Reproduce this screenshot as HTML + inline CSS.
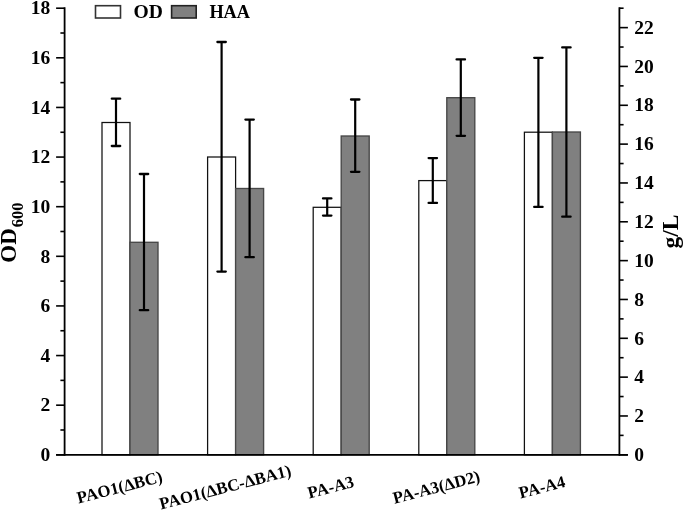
<!DOCTYPE html><html><head><meta charset="utf-8"><style>html,body{margin:0;padding:0;background:#fff;}svg{display:block;will-change:transform;}text{font-family:"Liberation Serif",serif;font-weight:bold;fill:#000;}</style></head><body>
<svg width="685" height="511" viewBox="0 0 685 511">
<rect width="685" height="511" fill="#fff"/>
<rect x="102.00" y="122.50" width="28.00" height="332.30" fill="#fff" stroke="#111" stroke-width="1.25"/>
<rect x="130.00" y="242.30" width="28.00" height="212.50" fill="#808080" stroke="#474747" stroke-width="1.35"/>
<rect x="207.60" y="157.00" width="28.00" height="297.80" fill="#fff" stroke="#111" stroke-width="1.25"/>
<rect x="235.60" y="188.50" width="28.00" height="266.30" fill="#808080" stroke="#474747" stroke-width="1.35"/>
<rect x="313.20" y="207.30" width="28.00" height="247.50" fill="#fff" stroke="#111" stroke-width="1.25"/>
<rect x="341.20" y="136.00" width="28.00" height="318.80" fill="#808080" stroke="#474747" stroke-width="1.35"/>
<rect x="418.80" y="180.60" width="28.00" height="274.20" fill="#fff" stroke="#111" stroke-width="1.25"/>
<rect x="446.80" y="97.70" width="28.00" height="357.10" fill="#808080" stroke="#474747" stroke-width="1.35"/>
<rect x="524.40" y="132.20" width="28.00" height="322.60" fill="#fff" stroke="#111" stroke-width="1.25"/>
<rect x="552.40" y="132.00" width="28.00" height="322.80" fill="#808080" stroke="#474747" stroke-width="1.35"/>
<line x1="116.00" y1="98.70" x2="116.00" y2="146.00" stroke="#000" stroke-width="2.2"/>
<line x1="111.80" y1="98.70" x2="120.20" y2="98.70" stroke="#000" stroke-width="2.3" stroke-linecap="round"/>
<line x1="111.80" y1="146.00" x2="120.20" y2="146.00" stroke="#000" stroke-width="2.3" stroke-linecap="round"/>
<line x1="144.00" y1="174.00" x2="144.00" y2="310.20" stroke="#000" stroke-width="2.2"/>
<line x1="139.80" y1="174.00" x2="148.20" y2="174.00" stroke="#000" stroke-width="2.3" stroke-linecap="round"/>
<line x1="139.80" y1="310.20" x2="148.20" y2="310.20" stroke="#000" stroke-width="2.3" stroke-linecap="round"/>
<line x1="221.60" y1="42.00" x2="221.60" y2="271.60" stroke="#000" stroke-width="2.2"/>
<line x1="217.40" y1="42.00" x2="225.80" y2="42.00" stroke="#000" stroke-width="2.3" stroke-linecap="round"/>
<line x1="217.40" y1="271.60" x2="225.80" y2="271.60" stroke="#000" stroke-width="2.3" stroke-linecap="round"/>
<line x1="249.60" y1="119.60" x2="249.60" y2="257.20" stroke="#000" stroke-width="2.2"/>
<line x1="245.40" y1="119.60" x2="253.80" y2="119.60" stroke="#000" stroke-width="2.3" stroke-linecap="round"/>
<line x1="245.40" y1="257.20" x2="253.80" y2="257.20" stroke="#000" stroke-width="2.3" stroke-linecap="round"/>
<line x1="327.20" y1="198.40" x2="327.20" y2="215.60" stroke="#000" stroke-width="2.2"/>
<line x1="323.00" y1="198.40" x2="331.40" y2="198.40" stroke="#000" stroke-width="2.3" stroke-linecap="round"/>
<line x1="323.00" y1="215.60" x2="331.40" y2="215.60" stroke="#000" stroke-width="2.3" stroke-linecap="round"/>
<line x1="355.20" y1="99.50" x2="355.20" y2="171.80" stroke="#000" stroke-width="2.2"/>
<line x1="351.00" y1="99.50" x2="359.40" y2="99.50" stroke="#000" stroke-width="2.3" stroke-linecap="round"/>
<line x1="351.00" y1="171.80" x2="359.40" y2="171.80" stroke="#000" stroke-width="2.3" stroke-linecap="round"/>
<line x1="432.80" y1="158.10" x2="432.80" y2="202.90" stroke="#000" stroke-width="2.2"/>
<line x1="428.60" y1="158.10" x2="437.00" y2="158.10" stroke="#000" stroke-width="2.3" stroke-linecap="round"/>
<line x1="428.60" y1="202.90" x2="437.00" y2="202.90" stroke="#000" stroke-width="2.3" stroke-linecap="round"/>
<line x1="460.80" y1="59.40" x2="460.80" y2="135.80" stroke="#000" stroke-width="2.2"/>
<line x1="456.60" y1="59.40" x2="465.00" y2="59.40" stroke="#000" stroke-width="2.3" stroke-linecap="round"/>
<line x1="456.60" y1="135.80" x2="465.00" y2="135.80" stroke="#000" stroke-width="2.3" stroke-linecap="round"/>
<line x1="538.40" y1="57.80" x2="538.40" y2="206.90" stroke="#000" stroke-width="2.2"/>
<line x1="534.20" y1="57.80" x2="542.60" y2="57.80" stroke="#000" stroke-width="2.3" stroke-linecap="round"/>
<line x1="534.20" y1="206.90" x2="542.60" y2="206.90" stroke="#000" stroke-width="2.3" stroke-linecap="round"/>
<line x1="566.40" y1="47.40" x2="566.40" y2="216.70" stroke="#000" stroke-width="2.2"/>
<line x1="562.20" y1="47.40" x2="570.60" y2="47.40" stroke="#000" stroke-width="2.3" stroke-linecap="round"/>
<line x1="562.20" y1="216.70" x2="570.60" y2="216.70" stroke="#000" stroke-width="2.3" stroke-linecap="round"/>
<line x1="64.60" y1="7.30" x2="64.60" y2="455.70" stroke="#000" stroke-width="1.8"/>
<line x1="619.40" y1="7.30" x2="619.40" y2="455.70" stroke="#000" stroke-width="1.8"/>
<line x1="56.10" y1="454.80" x2="627.90" y2="454.80" stroke="#000" stroke-width="1.8"/>
<line x1="56.10" y1="454.80" x2="64.60" y2="454.80" stroke="#000" stroke-width="1.6"/>
<text x="50.20" y="461.00" font-size="19.5" text-anchor="end">0</text>
<line x1="60.40" y1="429.99" x2="64.60" y2="429.99" stroke="#000" stroke-width="1.6"/>
<line x1="56.10" y1="405.18" x2="64.60" y2="405.18" stroke="#000" stroke-width="1.6"/>
<text x="50.20" y="411.38" font-size="19.5" text-anchor="end">2</text>
<line x1="60.40" y1="380.37" x2="64.60" y2="380.37" stroke="#000" stroke-width="1.6"/>
<line x1="56.10" y1="355.56" x2="64.60" y2="355.56" stroke="#000" stroke-width="1.6"/>
<text x="50.20" y="361.76" font-size="19.5" text-anchor="end">4</text>
<line x1="60.40" y1="330.74" x2="64.60" y2="330.74" stroke="#000" stroke-width="1.6"/>
<line x1="56.10" y1="305.93" x2="64.60" y2="305.93" stroke="#000" stroke-width="1.6"/>
<text x="50.20" y="312.13" font-size="19.5" text-anchor="end">6</text>
<line x1="60.40" y1="281.12" x2="64.60" y2="281.12" stroke="#000" stroke-width="1.6"/>
<line x1="56.10" y1="256.31" x2="64.60" y2="256.31" stroke="#000" stroke-width="1.6"/>
<text x="50.20" y="262.51" font-size="19.5" text-anchor="end">8</text>
<line x1="60.40" y1="231.50" x2="64.60" y2="231.50" stroke="#000" stroke-width="1.6"/>
<line x1="56.10" y1="206.69" x2="64.60" y2="206.69" stroke="#000" stroke-width="1.6"/>
<text x="50.20" y="212.89" font-size="19.5" text-anchor="end">10</text>
<line x1="60.40" y1="181.88" x2="64.60" y2="181.88" stroke="#000" stroke-width="1.6"/>
<line x1="56.10" y1="157.07" x2="64.60" y2="157.07" stroke="#000" stroke-width="1.6"/>
<text x="50.20" y="163.27" font-size="19.5" text-anchor="end">12</text>
<line x1="60.40" y1="132.26" x2="64.60" y2="132.26" stroke="#000" stroke-width="1.6"/>
<line x1="56.10" y1="107.44" x2="64.60" y2="107.44" stroke="#000" stroke-width="1.6"/>
<text x="50.20" y="113.64" font-size="19.5" text-anchor="end">14</text>
<line x1="60.40" y1="82.63" x2="64.60" y2="82.63" stroke="#000" stroke-width="1.6"/>
<line x1="56.10" y1="57.82" x2="64.60" y2="57.82" stroke="#000" stroke-width="1.6"/>
<text x="50.20" y="64.02" font-size="19.5" text-anchor="end">16</text>
<line x1="60.40" y1="33.01" x2="64.60" y2="33.01" stroke="#000" stroke-width="1.6"/>
<line x1="56.10" y1="8.20" x2="64.60" y2="8.20" stroke="#000" stroke-width="1.6"/>
<text x="50.20" y="14.40" font-size="19.5" text-anchor="end">18</text>
<line x1="619.40" y1="454.80" x2="627.90" y2="454.80" stroke="#000" stroke-width="1.6"/>
<text x="634.20" y="461.00" font-size="19.5" text-anchor="start">0</text>
<line x1="619.40" y1="435.38" x2="623.60" y2="435.38" stroke="#000" stroke-width="1.6"/>
<line x1="619.40" y1="415.97" x2="627.90" y2="415.97" stroke="#000" stroke-width="1.6"/>
<text x="634.20" y="422.17" font-size="19.5" text-anchor="start">2</text>
<line x1="619.40" y1="396.55" x2="623.60" y2="396.55" stroke="#000" stroke-width="1.6"/>
<line x1="619.40" y1="377.13" x2="627.90" y2="377.13" stroke="#000" stroke-width="1.6"/>
<text x="634.20" y="383.33" font-size="19.5" text-anchor="start">4</text>
<line x1="619.40" y1="357.71" x2="623.60" y2="357.71" stroke="#000" stroke-width="1.6"/>
<line x1="619.40" y1="338.30" x2="627.90" y2="338.30" stroke="#000" stroke-width="1.6"/>
<text x="634.20" y="344.50" font-size="19.5" text-anchor="start">6</text>
<line x1="619.40" y1="318.88" x2="623.60" y2="318.88" stroke="#000" stroke-width="1.6"/>
<line x1="619.40" y1="299.46" x2="627.90" y2="299.46" stroke="#000" stroke-width="1.6"/>
<text x="634.20" y="305.66" font-size="19.5" text-anchor="start">8</text>
<line x1="619.40" y1="280.04" x2="623.60" y2="280.04" stroke="#000" stroke-width="1.6"/>
<line x1="619.40" y1="260.63" x2="627.90" y2="260.63" stroke="#000" stroke-width="1.6"/>
<text x="634.20" y="266.83" font-size="19.5" text-anchor="start">10</text>
<line x1="619.40" y1="241.21" x2="623.60" y2="241.21" stroke="#000" stroke-width="1.6"/>
<line x1="619.40" y1="221.79" x2="627.90" y2="221.79" stroke="#000" stroke-width="1.6"/>
<text x="634.20" y="227.99" font-size="19.5" text-anchor="start">12</text>
<line x1="619.40" y1="202.37" x2="623.60" y2="202.37" stroke="#000" stroke-width="1.6"/>
<line x1="619.40" y1="182.96" x2="627.90" y2="182.96" stroke="#000" stroke-width="1.6"/>
<text x="634.20" y="189.16" font-size="19.5" text-anchor="start">14</text>
<line x1="619.40" y1="163.54" x2="623.60" y2="163.54" stroke="#000" stroke-width="1.6"/>
<line x1="619.40" y1="144.12" x2="627.90" y2="144.12" stroke="#000" stroke-width="1.6"/>
<text x="634.20" y="150.32" font-size="19.5" text-anchor="start">16</text>
<line x1="619.40" y1="124.70" x2="623.60" y2="124.70" stroke="#000" stroke-width="1.6"/>
<line x1="619.40" y1="105.29" x2="627.90" y2="105.29" stroke="#000" stroke-width="1.6"/>
<text x="634.20" y="111.49" font-size="19.5" text-anchor="start">18</text>
<line x1="619.40" y1="85.87" x2="623.60" y2="85.87" stroke="#000" stroke-width="1.6"/>
<line x1="619.40" y1="66.45" x2="627.90" y2="66.45" stroke="#000" stroke-width="1.6"/>
<text x="634.20" y="72.65" font-size="19.5" text-anchor="start">20</text>
<line x1="619.40" y1="47.03" x2="623.60" y2="47.03" stroke="#000" stroke-width="1.6"/>
<line x1="619.40" y1="27.62" x2="627.90" y2="27.62" stroke="#000" stroke-width="1.6"/>
<text x="634.20" y="33.82" font-size="19.5" text-anchor="start">22</text>
<line x1="619.40" y1="8.20" x2="623.60" y2="8.20" stroke="#000" stroke-width="1.6"/>
<text x="0" y="0" font-size="16.8" text-anchor="middle" transform="translate(119.50,487.00) rotate(-14.5) translate(0,5.7)">PAO1(ΔBC)</text>
<text x="0" y="0" font-size="16.8" text-anchor="middle" transform="translate(225.10,487.00) rotate(-14.5) translate(0,5.7)">PAO1(ΔBC-ΔBA1)</text>
<text x="0" y="0" font-size="16.8" text-anchor="middle" transform="translate(330.70,487.00) rotate(-14.5) translate(0,5.7)">PA-A3</text>
<text x="0" y="0" font-size="16.8" text-anchor="middle" transform="translate(436.30,487.00) rotate(-14.5) translate(0,5.7)">PA-A3(ΔD2)</text>
<text x="0" y="0" font-size="16.8" text-anchor="middle" transform="translate(541.90,487.00) rotate(-14.5) translate(0,5.7)">PA-A4</text>
<text x="0" y="0" font-size="23" text-anchor="middle" transform="translate(15.9,232.6) rotate(-90)">OD<tspan font-size="16.5" dx="1" dy="7">600</tspan></text>
<text x="0" y="0" font-size="23.5" text-anchor="middle" transform="translate(678.1,231.5) rotate(-90)">g/L</text>
<rect x="95.5" y="5.7" width="25" height="12.3" fill="#fff" stroke="#333" stroke-width="1.6"/>
<text x="133.6" y="18.1" font-size="19.6">OD</text>
<rect x="171.6" y="5.7" width="24.6" height="12.3" fill="#808080" stroke="#222" stroke-width="1.6"/>
<text x="209.4" y="18.2" font-size="19.6" textLength="40.6" lengthAdjust="spacingAndGlyphs">HAA</text>
</svg></body></html>
